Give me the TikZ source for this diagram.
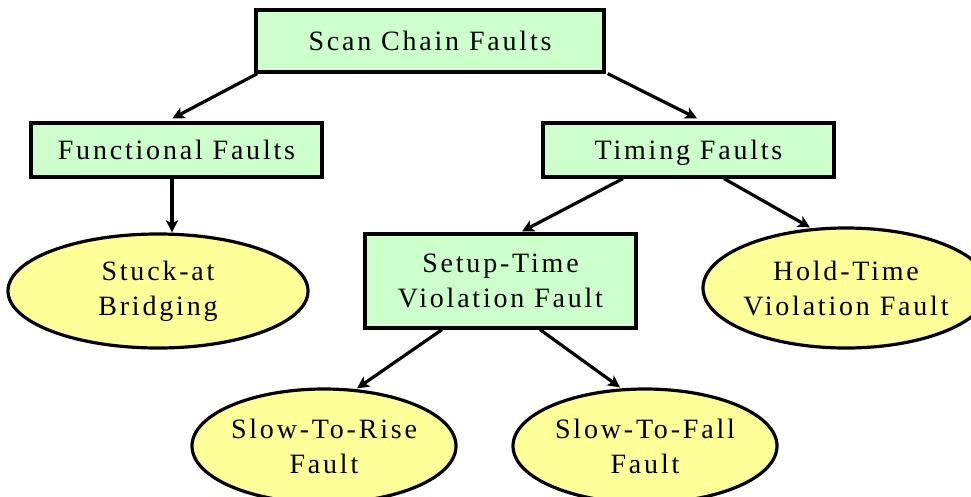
\documentclass[tikz,border=0pt]{standalone}
\usepackage{fontspec}
\setmainfont{Liberation Serif}[LetterSpace=10]
\usetikzlibrary{shapes.geometric,arrows.meta}
\definecolor{boxgreen}{RGB}{204,255,204}
\definecolor{ellyellow}{RGB}{255,255,153}
\tikzset{
  txt/.style={font=\fontsize{28}{35}\selectfont, align=center, text=black},
  box/.style={draw=black, line width=3.2pt, fill=boxgreen, rectangle,
    inner sep=0pt, txt},
  oneline/.style={text height=19pt, text depth=0pt},
  ell/.style={draw=black, line width=3.2pt, fill=ellyellow, ellipse,
    inner sep=0pt},
  arr/.style={draw=black, line width=3.2pt,
    -{Stealth[length=12pt,width=12pt,inset=3pt]}},
}
\begin{document}
\begin{tikzpicture}[x=1pt,y=-1pt]
  \useasboundingbox (0,0) rectangle (971,496);
  \clip (0,0) rectangle (971,496);
  \fill[white] (0,0) rectangle (971,496);

  % rectangular categories
  \node[box, oneline, minimum width=348pt, minimum height=62pt] (scan) at (430,41) {Scan Chain Faults};
  \node[box, oneline, minimum width=291pt, minimum height=54pt] (func) at (176.5,150) {Functional Faults};
  \node[box, oneline, minimum width=291pt, minimum height=54pt] (timing) at (688.5,150) {Timing Faults};
  \node[box, minimum width=271pt, minimum height=94pt] (setup) at (500.5,281) {Setup-Time\\Violation Fault};

  % leaf fault types
  \node[ell, minimum width=300pt, minimum height=114pt,
        label={[txt]center:Stuck-at\\Bridging}] (stuck) at (158,291) {};
  \node[ell, minimum width=286pt, minimum height=120pt,
        label={[txt]center:Hold-Time\\Violation Fault}] (hold) at (846,288) {};
  \node[ell, minimum width=264pt, minimum height=114pt,
        label={[txt]center:Slow-To-Rise\\Fault}] (rise) at (324,446) {};
  \node[ell, minimum width=264pt, minimum height=114pt,
        label={[txt]center:Slow-To-Fall\\Fault}] (fall) at (645,446) {};

  % connectors
  \draw[arr] ([xshift=3pt]scan.south west) -- ([xshift=-4pt,yshift=3pt]func.north);
  \draw[arr] ([xshift=2pt]scan.south east) -- ([xshift=8.5pt,yshift=3pt]timing.north);
  \draw[arr] ([xshift=-4.5pt]func.south) -- ([xshift=-4.5pt]func.south |- stuck.north);
  \draw[arr] ([xshift=-65.5pt]timing.south) -- ([xshift=21.5pt,yshift=1pt]setup.north);
  \draw[arr] ([xshift=35.5pt]timing.south) -- ([xshift=-36pt,yshift=-1pt]hold.north);
  \draw[arr] ([xshift=-58.5pt]setup.south) -- ([xshift=33pt,yshift=-1pt]rise.north);
  \draw[arr] ([xshift=39.5pt]setup.south) -- ([xshift=-25pt]fall.north);
\end{tikzpicture}
\end{document}
